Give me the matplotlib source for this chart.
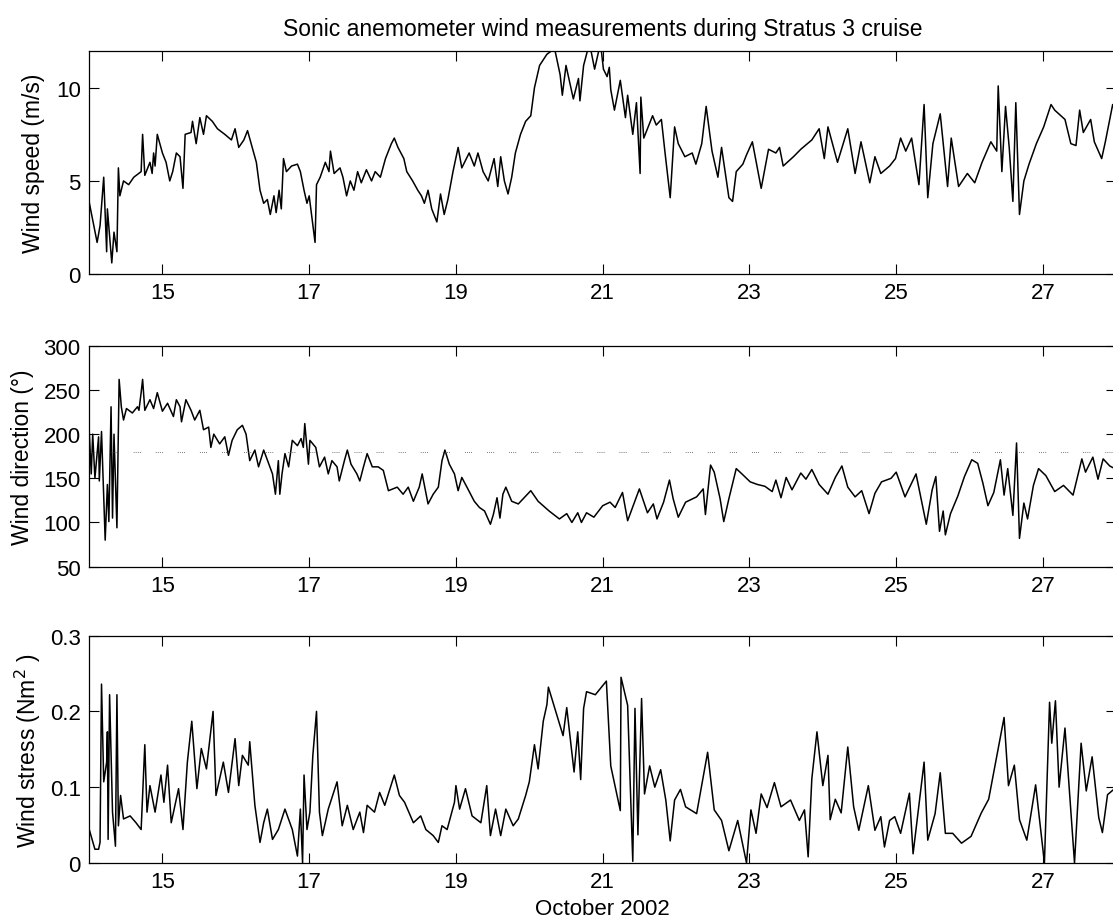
import numpy as np
import matplotlib.pyplot as plt

plt.rcParams['font.family'] = ['Liberation Sans', 'DejaVu Sans']

# wind speed (m/s), day of October 2002
speed_t = [14.00, 14.11, 14.15, 14.20, 14.24, 14.25, 14.31, 14.34, 14.38, 14.40, 14.42, 14.47,
           14.54, 14.61, 14.71, 14.73, 14.76, 14.83, 14.86, 14.88, 14.90, 14.93, 15.00, 15.05,
           15.10, 15.14, 15.19, 15.24, 15.28, 15.31, 15.39, 15.41, 15.46, 15.51, 15.56, 15.60,
           15.68, 15.75, 15.85, 15.94, 15.99, 16.04, 16.11, 16.16, 16.21, 16.28, 16.33, 16.38,
           16.43, 16.47, 16.52, 16.55, 16.59, 16.62, 16.65, 16.69, 16.76, 16.84, 16.88, 16.93,
           16.97, 17.00, 17.08, 17.10, 17.15, 17.22, 17.27, 17.29, 17.34, 17.42, 17.46, 17.51,
           17.56, 17.61, 17.66, 17.71, 17.78, 17.85, 17.90, 17.97, 18.04, 18.12, 18.16, 18.21,
           18.29, 18.33, 18.41, 18.48, 18.53, 18.57, 18.62, 18.67, 18.74, 18.79, 18.84, 18.89,
           18.96, 19.03, 19.08, 19.18, 19.25, 19.30, 19.37, 19.44, 19.52, 19.57, 19.61, 19.66,
           19.71, 19.76, 19.81, 19.88, 19.95, 20.02, 20.07, 20.14, 20.24, 20.31, 20.35, 20.42,
           20.45, 20.50, 20.60, 20.67, 20.69, 20.74, 20.82, 20.89, 20.97, 21.01, 21.06, 21.09,
           21.11, 21.16, 21.24, 21.31, 21.34, 21.41, 21.46, 21.51, 21.52, 21.56, 21.68, 21.73,
           21.80, 21.85, 21.92, 21.98, 22.03, 22.12, 22.22, 22.27, 22.35, 22.41, 22.49, 22.57,
           22.62, 22.72, 22.77, 22.82, 22.91, 22.96, 23.04, 23.16, 23.26, 23.36, 23.41, 23.46,
           23.60, 23.70, 23.85, 23.95, 24.02, 24.07, 24.20, 24.34, 24.44, 24.52, 24.64, 24.71,
           24.79, 24.91, 24.99, 25.06, 25.13, 25.21, 25.31, 25.38, 25.43, 25.50, 25.60, 25.70,
           25.75, 25.85, 25.97, 26.07, 26.17, 26.29, 26.37, 26.39, 26.44, 26.49, 26.54, 26.59,
           26.63, 26.68, 26.74, 26.81, 26.91, 27.01, 27.11, 27.16, 27.30, 27.38, 27.45, 27.50,
           27.55, 27.65, 27.70, 27.80, 27.85, 27.95, 28.00]
speed = [3.9, 1.7, 2.6, 5.2, 1.2, 3.5, 0.6, 2.25, 1.2, 5.7, 4.2, 5.0,
         4.8, 5.2, 5.5, 7.5, 5.3, 6.0, 5.4, 6.5, 5.8, 7.5, 6.5, 6.0,
         5.0, 5.5, 6.5, 6.3, 4.6, 7.5, 7.6, 8.2, 7.0, 8.4, 7.5, 8.5,
         8.2, 7.8, 7.5, 7.2, 7.8, 6.8, 7.2, 7.7, 7.0, 6.0, 4.5, 3.8,
         4.0, 3.2, 4.2, 3.3, 4.5, 3.5, 6.2, 5.5, 5.8, 5.9, 5.5, 4.5,
         3.8, 4.2, 1.7, 4.8, 5.2, 6.0, 5.5, 6.6, 5.4, 5.7, 5.2, 4.2,
         5.0, 4.5, 5.5, 4.9, 5.6, 5.0, 5.5, 5.2, 6.2, 7.0, 7.3, 6.8,
         6.2, 5.5, 5.0, 4.5, 4.2, 3.8, 4.5, 3.5, 2.8, 4.3, 3.2, 4.0,
         5.5, 6.8, 5.7, 6.5, 5.8, 6.5, 5.5, 5.0, 6.2, 4.7, 6.3, 5.0,
         4.3, 5.2, 6.5, 7.5, 8.2, 8.5, 10.0, 11.2, 11.8, 12.0, 12.0, 10.7,
         9.6, 11.2, 9.4, 10.5, 9.3, 11.2, 12.4, 11.0, 12.4, 11.0, 10.6, 11.1,
         9.9, 8.8, 10.4, 8.4, 9.6, 7.5, 9.2, 5.4, 9.5, 7.3, 8.5, 8.0,
         8.3, 6.5, 4.1, 7.9, 7.0, 6.3, 6.5, 5.9, 7.0, 9.0, 6.6, 5.2,
         6.8, 4.1, 3.9, 5.5, 5.9, 6.4, 7.1, 4.6, 6.7, 6.5, 6.8, 5.8,
         6.3, 6.7, 7.2, 7.8, 6.2, 7.9, 6.0, 7.8, 5.4, 7.1, 4.9, 6.3,
         5.4, 5.8, 6.2, 7.3, 6.6, 7.3, 4.8, 9.1, 4.1, 7.0, 8.6, 4.7,
         7.3, 4.7, 5.4, 4.9, 6.0, 7.1, 6.6, 10.1, 5.5, 9.0, 6.8, 3.9,
         9.2, 3.2, 5.0, 5.9, 7.0, 7.9, 9.1, 8.8, 8.3, 7.0, 6.9, 8.8,
         7.6, 8.3, 7.1, 6.2, 7.1, 9.1, 8.5]

# wind direction (degrees)
dir_t = [14.00, 14.03, 14.05, 14.08, 14.13, 14.14, 14.17, 14.22, 14.25, 14.27, 14.30, 14.32,
         14.34, 14.38, 14.41, 14.44, 14.47, 14.51, 14.59, 14.66, 14.68, 14.71, 14.73, 14.76,
         14.83, 14.88, 14.93, 15.00, 15.07, 15.15, 15.19, 15.24, 15.26, 15.32, 15.39, 15.44,
         15.51, 15.56, 15.63, 15.66, 15.70, 15.78, 15.85, 15.90, 15.95, 16.02, 16.09, 16.14,
         16.19, 16.26, 16.31, 16.38, 16.50, 16.54, 16.58, 16.60, 16.63, 16.67, 16.72, 16.77,
         16.84, 16.89, 16.92, 16.94, 16.99, 17.01, 17.09, 17.14, 17.21, 17.26, 17.31, 17.38,
         17.41, 17.48, 17.52, 17.57, 17.65, 17.69, 17.74, 17.79, 17.86, 17.94, 18.01, 18.08,
         18.20, 18.28, 18.35, 18.42, 18.50, 18.54, 18.62, 18.69, 18.76, 18.81, 18.85, 18.91,
         18.98, 19.03, 19.08, 19.15, 19.25, 19.32, 19.39, 19.47, 19.51, 19.56, 19.60, 19.64,
         19.68, 19.76, 19.85, 19.93, 20.02, 20.12, 20.27, 20.41, 20.51, 20.58, 20.66, 20.71,
         20.78, 20.88, 21.00, 21.10, 21.17, 21.27, 21.34, 21.50, 21.61, 21.69, 21.74, 21.83,
         21.91, 21.96, 22.03, 22.13, 22.28, 22.37, 22.40, 22.47, 22.52, 22.60, 22.65, 22.72,
         22.82, 22.91, 23.01, 23.11, 23.21, 23.31, 23.36, 23.43, 23.50, 23.58, 23.70, 23.77,
         23.85, 23.95, 24.07, 24.17, 24.26, 24.34, 24.44, 24.53, 24.63, 24.71, 24.80, 24.93,
         25.00, 25.12, 25.27, 25.41, 25.49, 25.54, 25.59, 25.64, 25.67, 25.74, 25.84, 25.93,
         26.03, 26.11, 26.18, 26.25, 26.33, 26.42, 26.47, 26.52, 26.59, 26.64, 26.68, 26.74,
         26.79, 26.87, 26.94, 27.04, 27.16, 27.28, 27.41, 27.53, 27.58, 27.68, 27.75, 27.82,
         27.91, 28.00]
direction = [208, 155, 200, 150, 197, 147, 203, 80, 143, 101, 231, 105,
             200, 94, 262, 231, 216, 229, 224, 231, 227, 247, 262, 227,
             239, 229, 247, 226, 235, 220, 239, 231, 214, 239, 227, 216,
             227, 205, 208, 185, 200, 189, 197, 176, 193, 205, 210, 200,
             170, 182, 163, 182, 155, 132, 170, 132, 155, 178, 163, 193,
             187, 195, 185, 212, 166, 193, 185, 163, 174, 155, 170, 163,
             147, 170, 182, 166, 155, 147, 163, 178, 163, 163, 159, 136,
             140, 132, 140, 124, 140, 155, 121, 132, 140, 170, 182, 166,
             155, 136, 151, 140, 124, 117, 113, 98, 109, 128, 105, 132,
             140, 124, 121, 128, 136, 124, 113, 104, 110, 100, 111, 100,
             111, 106, 119, 123, 117, 134, 102, 138, 111, 121, 104, 123,
             148, 127, 106, 123, 129, 138, 109, 165, 157, 127, 101, 127,
             161, 154, 146, 143, 141, 135, 148, 128, 151, 137, 156, 149,
             160, 143, 132, 151, 164, 140, 129, 136, 110, 133, 146, 150,
             157, 129, 155, 98, 137, 152, 90, 113, 86, 110, 130, 152,
             171, 167, 145, 119, 134, 171, 131, 161, 108, 190, 82, 122,
             104, 142, 161, 153, 135, 142, 131, 172, 157, 174, 149, 172,
             164, 160]

# wind stress
stress_t = [14.00, 14.08, 14.13, 14.15, 14.17, 14.20, 14.24, 14.25, 14.26, 14.28, 14.32, 14.36,
            14.38, 14.40, 14.43, 14.47, 14.56, 14.64, 14.71, 14.76, 14.79, 14.83, 14.90, 14.98,
            15.02, 15.07, 15.12, 15.22, 15.28, 15.34, 15.40, 15.47, 15.53, 15.60, 15.69, 15.73,
            15.83, 15.90, 15.99, 16.04, 16.09, 16.17, 16.19, 16.26, 16.33, 16.38, 16.43, 16.50,
            16.58, 16.67, 16.77, 16.84, 16.88, 16.91, 16.93, 16.97, 17.01, 17.05, 17.10, 17.14,
            17.18, 17.26, 17.38, 17.45, 17.52, 17.60, 17.69, 17.74, 17.79, 17.89, 17.96, 18.03,
            18.16, 18.23, 18.30, 18.42, 18.52, 18.59, 18.69, 18.76, 18.81, 18.88, 18.98, 19.00,
            19.05, 19.13, 19.22, 19.34, 19.42, 19.47, 19.54, 19.61, 19.68, 19.78, 19.85, 19.95,
            20.00, 20.07, 20.12, 20.19, 20.24, 20.26, 20.36, 20.46, 20.51, 20.61, 20.66, 20.70,
            20.74, 20.78, 20.90, 21.05, 21.11, 21.24, 21.25, 21.34, 21.41, 21.44, 21.48, 21.53,
            21.57, 21.64, 21.71, 21.79, 21.86, 21.92, 21.98, 22.06, 22.13, 22.28, 22.43, 22.52,
            22.62, 22.72, 22.84, 22.96, 23.02, 23.09, 23.16, 23.24, 23.34, 23.43, 23.56, 23.68,
            23.75, 23.80, 23.85, 23.92, 24.00, 24.07, 24.10, 24.17, 24.25, 24.34, 24.42, 24.49,
            24.62, 24.71, 24.79, 24.84, 24.91, 24.98, 25.06, 25.18, 25.23, 25.38, 25.43, 25.53,
            25.60, 25.67, 25.77, 25.89, 26.02, 26.16, 26.26, 26.39, 26.47, 26.53, 26.61, 26.68,
            26.78, 26.90, 27.02, 27.09, 27.12, 27.17, 27.22, 27.30, 27.43, 27.52, 27.59, 27.67,
            27.76, 27.81, 27.88, 28.00]
stress = [0.045, 0.018, 0.018, 0.027, 0.236, 0.107, 0.133, 0.173, 0.031, 0.222, 0.067, 0.022,
          0.222, 0.049, 0.089, 0.058, 0.062, 0.053, 0.044, 0.156, 0.067, 0.102, 0.067, 0.116,
          0.080, 0.129, 0.053, 0.098, 0.044, 0.133, 0.187, 0.098, 0.151, 0.124, 0.200, 0.089,
          0.133, 0.093, 0.164, 0.102, 0.142, 0.129, 0.160, 0.076, 0.027, 0.053, 0.071, 0.031,
          0.044, 0.071, 0.044, 0.009, 0.071, 0.000, 0.116, 0.044, 0.067, 0.142, 0.200, 0.067,
          0.036, 0.071, 0.107, 0.049, 0.076, 0.044, 0.067, 0.040, 0.076, 0.067, 0.093, 0.076,
          0.116, 0.089, 0.080, 0.053, 0.062, 0.044, 0.036, 0.027, 0.049, 0.044, 0.080, 0.102,
          0.071, 0.098, 0.062, 0.053, 0.102, 0.036, 0.071, 0.036, 0.071, 0.049, 0.058, 0.089,
          0.107, 0.156, 0.124, 0.187, 0.209, 0.232, 0.200, 0.168, 0.205, 0.120, 0.173, 0.110,
          0.204, 0.226, 0.222, 0.240, 0.128, 0.069, 0.245, 0.208, 0.002, 0.204, 0.037, 0.217,
          0.091, 0.128, 0.100, 0.123, 0.083, 0.029, 0.083, 0.097, 0.074, 0.065, 0.146, 0.070,
          0.056, 0.016, 0.056, 0.000, 0.070, 0.039, 0.091, 0.073, 0.106, 0.074, 0.083, 0.056,
          0.070, 0.008, 0.111, 0.173, 0.102, 0.142, 0.057, 0.084, 0.066, 0.153, 0.074, 0.043,
          0.102, 0.043, 0.061, 0.021, 0.056, 0.061, 0.039, 0.092, 0.012, 0.133, 0.030, 0.065,
          0.119, 0.039, 0.039, 0.026, 0.035, 0.066, 0.084, 0.151, 0.192, 0.102, 0.129, 0.057,
          0.030, 0.103, 0.000, 0.212, 0.158, 0.214, 0.100, 0.178, 0.000, 0.158, 0.095, 0.140,
          0.060, 0.040, 0.090, 0.100]

day_ticks = [15, 17, 19, 21, 23, 25, 27]

fig = plt.figure(figsize=(11.13, 9.2), dpi=100)
left, width = 0.080, 0.923
ax1 = fig.add_axes([left, 0.701, width, 0.243])
ax2 = fig.add_axes([left, 0.383, width, 0.240])
ax3 = fig.add_axes([left, 0.061, width, 0.247])

ax1.plot(speed_t, speed, color='black', lw=1.1)
ax2.plot(dir_t, direction, color='black', lw=1.1)
ax2.axhline(180, color='0.3', lw=0.6, ls=(0, (1, 1.5, 1, 1.5, 1, 1.5, 1, 18)))
ax3.plot(stress_t, stress, color='black', lw=1.1)

ax1.set_ylim(0, 12)
ax1.set_yticks([0, 5, 10])
ax2.set_ylim(50, 300)
ax2.set_yticks([50, 100, 150, 200, 250, 300])
ax3.set_ylim(0, 0.3)
ax3.set_yticks([0, 0.1, 0.2, 0.3])
ax3.set_yticklabels(['0', '0.1', '0.2', '0.3'])

for ax in (ax1, ax2, ax3):
    ax.set_xlim(14, 28)
    ax.set_xticks(day_ticks)
    ax.tick_params(direction='in', length=7, width=0.8, top=True, right=True,
                   labelsize=16, pad=6)
    for s in ax.spines.values():
        s.set_linewidth(0.9)

ax1.set_title('Sonic anemometer wind measurements during Stratus 3 cruise',
              fontsize=16.5, pad=11)
ax1.set_ylabel('Wind speed (m/s)', fontsize=16.5)
ax2.set_ylabel('Wind direction (°)', fontsize=16.5)
ax3.set_ylabel('Wind stress (Nm$^2$ )', fontsize=16.5)
ax1.yaxis.set_label_coords(-0.043, 0.5)
ax2.yaxis.set_label_coords(-0.054, 0.5)
ax3.yaxis.set_label_coords(-0.045, 0.5)
ax3.set_xlabel('October 2002', fontsize=16, labelpad=4)

fig.savefig('out.png', dpi=100)
